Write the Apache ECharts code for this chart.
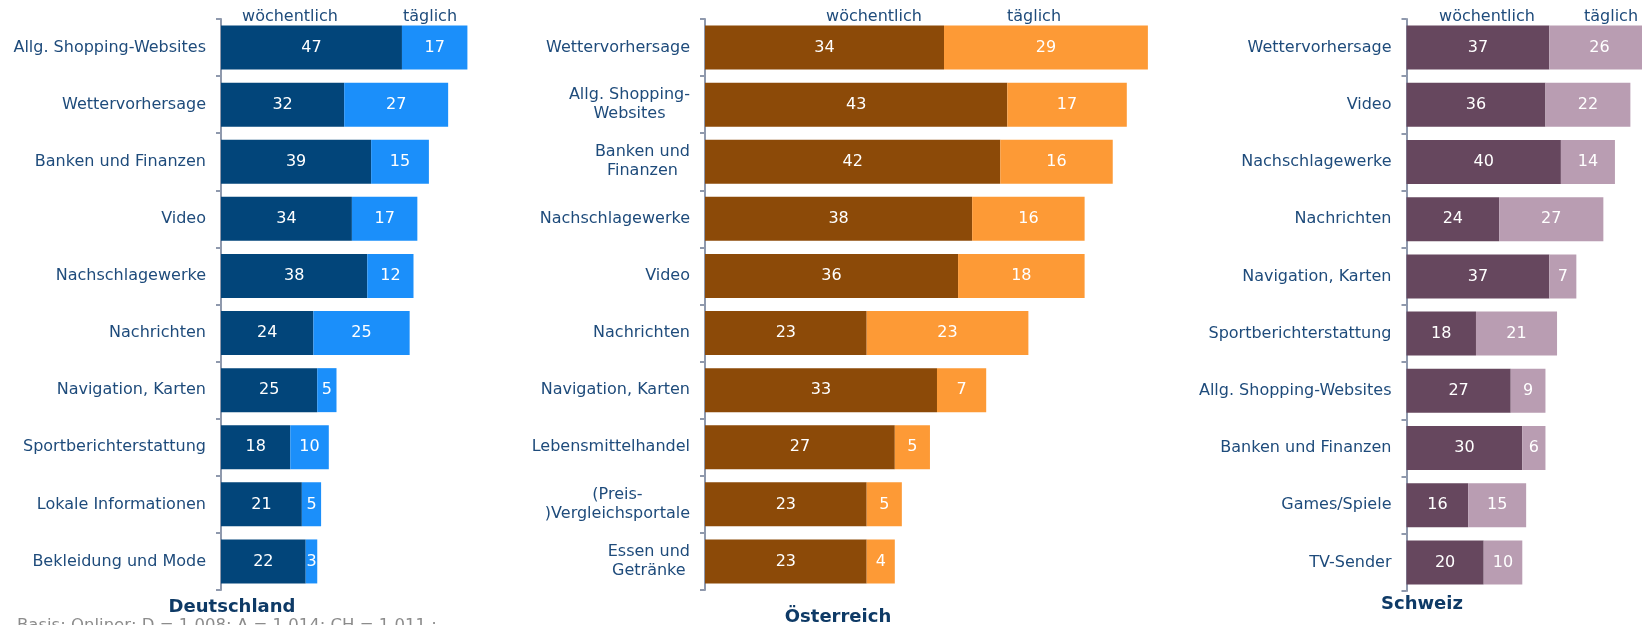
<!DOCTYPE html>
<html>
<head>
<meta charset="utf-8">
<script src="https://cdn.jsdelivr.net/npm/echarts@6/dist/echarts.min.js"></script>
<style>
html,body{margin:0;padding:0;background:#fff;}
#c{width:1642px;height:625px;}
</style>
</head>
<body>
<div id="c"></div>
<script>
// ---- data ----
const seriesNames = ['wöchentlich', 'täglich'];

const deCategories = ['Allg. Shopping-Websites','Wettervorhersage','Banken und Finanzen','Video','Nachschlagewerke','Nachrichten','Navigation, Karten','Sportberichterstattung','Lokale Informationen','Bekleidung und Mode'];
const deWeekly = [47,32,39,34,38,24,25,18,21,22];
const deDaily  = [17,27,15,17,12,25,5,10,5,3];

const atCategories = ['Wettervorhersage','Allg. Shopping-\nWebsites','Banken und\nFinanzen','Nachschlagewerke','Video','Nachrichten','Navigation, Karten','Lebensmittelhandel','(Preis-\n)Vergleichsportale','Essen und\nGetränke'];
const atWeekly = [34,43,42,38,36,23,33,27,23,23];
const atDaily  = [29,17,16,16,18,23,7,5,5,4];

const chCategories = ['Wettervorhersage','Video','Nachschlagewerke','Nachrichten','Navigation, Karten','Sportberichterstattung','Allg. Shopping-Websites','Banken und Finanzen','Games/Spiele','TV-Sender'];
const chWeekly = [37,36,40,24,37,18,27,30,16,20];
const chDaily  = [26,22,14,27,7,21,9,6,15,10];

const panelTitles = ['Deutschland','Österreich','Schweiz'];
const footnote = 'Basis: Onliner; D = 1.008; A = 1.014; CH = 1.011 ;';

// ---- styles ----
const FONT = 'DejaVu Sans';
const LABEL_COLOR = '#1e4b7b';
const AXIS_COLOR = '#8f99ad';
const colors = [
  ['#02457a', '#1b8ffa'],
  ['#8c4a08', '#fd9a36'],
  ['#66475e', '#b99db2']
];

const grids = [
  {left: 221, top: 19, width: 385, height: 571},
  {left: 705, top: 19, width: 703, height: 571},
  {left: 1406.5, top: 19, width: 231.6, height: 572}
];
const axisMax = [100, 100, 60];
const cats = [deCategories, atCategories, chCategories];
const weekly = [deWeekly, atWeekly, chWeekly];
const daily = [deDaily, atDaily, chDaily];

const xAxes = grids.map((g, i) => ({
  gridIndex: i, type: 'value', min: 0, max: axisMax[i], show: false
}));
const yAxes = grids.map((g, i) => ({
  gridIndex: i, type: 'category', inverse: true, data: cats[i],
  axisLine: {show: true, lineStyle: {color: AXIS_COLOR, width: 2}},
  axisTick: {show: true, length: 5, lineStyle: {color: AXIS_COLOR, width: 2}},
  axisLabel: {
    margin: 15, color: LABEL_COLOR, fontFamily: FONT, fontSize: 16,
    lineHeight: 19,
    formatter: v => v.split('\n').map(s => '{c|' + s + '}').join('\n'),
    rich: {c: {align: 'center', color: LABEL_COLOR, fontFamily: FONT, fontSize: 16, lineHeight: 19}}
  },
  splitLine: {show: false}
}));

const series = [];
grids.forEach((g, i) => {
  [weekly[i], daily[i]].forEach((vals, k) => {
    series.push({
      type: 'bar', name: seriesNames[k], stack: 'p' + i,
      xAxisIndex: i, yAxisIndex: i, data: vals, barWidth: 44, clip: false,
      itemStyle: {color: colors[i][k]},
      label: {show: true, position: 'inside', color: '#fff', fontFamily: FONT, fontSize: 16},
      animation: false
    });
  });
});

const headerPos = [[290, 430], [874, 1034], [1487, 1611]];
const titlePos = [[232, 607], [838, 617], [1422, 604]];
const graphic = [];
headerPos.forEach(p => p.forEach((x, k) => graphic.push({
  type: 'text', x: x, y: 17,
  style: {text: seriesNames[k], fill: LABEL_COLOR, font: '16px "DejaVu Sans"', textAlign: 'center', textVerticalAlign: 'middle'}
})));
titlePos.forEach((p, i) => graphic.push({
  type: 'text', x: p[0], y: p[1],
  style: {text: panelTitles[i], fill: '#0e3a66', font: 'bold 18px "DejaVu Sans"', textAlign: 'center', textVerticalAlign: 'middle'}
}));
graphic.push({
  type: 'text', x: 17, y: 617,
  style: {text: footnote, fill: '#8c8c8c', font: '16.5px "DejaVu Sans"', textAlign: 'left', textVerticalAlign: 'top'}
});

const chart = echarts.init(document.getElementById('c'), null, {renderer: 'canvas'});
chart.setOption({
  animation: false,
  grid: grids,
  xAxis: xAxes,
  yAxis: yAxes,
  series: series,
  graphic: graphic
});
</script>
</body>
</html>
